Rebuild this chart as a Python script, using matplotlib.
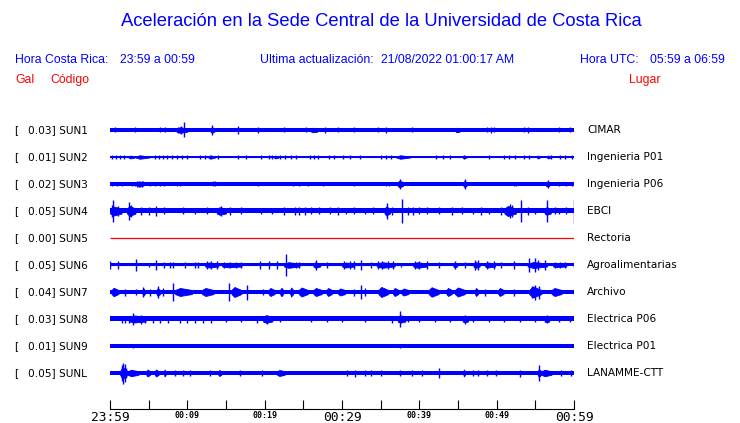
import numpy as np
import matplotlib
matplotlib.use("Agg")
import matplotlib.pyplot as plt

# ---------------- data ----------------
codes = ["SUN1", "SUN2", "SUN3", "SUN4", "SUN5", "SUN6", "SUN7", "SUN8", "SUN9", "SUNL"]
places = ["CIMAR", "Ingenieria P01", "Ingenieria P06", "EBCI", "Rectoria",
          "Agroalimentarias", "Archivo", "Electrica P06", "Electrica P01", "LANAMME-CTT"]
peaks_gal = [0.03, 0.01, 0.02, 0.05, 0.00, 0.05, 0.04, 0.03, 0.01, 0.05]
tick_minutes = [0, 5, 10, 15, 20, 25, 30, 35, 40, 45, 50, 55, 60]
tick_labels = ["23:59", "", "00:09", "", "00:19", "", "00:29", "", "00:39", "", "00:49", "", "00:59"]

# background noise half-amplitude per station (mGal)
base_mgal = [7, 2, 8, 10, 0, 6, 8, 10, 7, 7]

# spikes: minute after 23:59 and half-amplitude (mGal)
SUN1_t = [9.6, 9.2, 8.75, 13.2, 16.6, 19.2, 27.8, 35.7, 34.6, 54.0, 0.6, 3.2, 6.5, 7.1, 22.5,
          25.3, 29.5, 31.5, 39.0, 48.7, 49.3, 49.6, 53.5, 58.0, 59.5]
SUN1_a = [30, 16, 12, 20, 17, 12, 13, 13, 10, 12, 10, 10, 10, 10, 10,
          10, 10, 10, 10, 10, 11, 10, 10, 10, 10]
SUN2_t = [0.2, 0.8, 1.3, 1.8, 5.8, 6.4, 6.9, 7.4, 8.0, 8.6, 9.3, 10.0, 11.6, 12.3, 14.0, 16.6,
          17.6, 19.5, 20.5, 21.0, 22.0, 22.6, 23.4, 24.0, 25.8, 26.4, 26.9, 28.3, 29.0, 30.1,
          31.0, 32.3, 35.0, 35.7, 36.3, 42.2, 43.0, 44.0, 49.0, 50.9, 51.6, 52.4, 53.5, 54.2,
          57.0, 58.2, 58.8, 59.8]
SUN2_a = [7] * 48
SUN3_t = [3.8, 3.5, 4.1, 13.3, 13.6, 37.5, 45.9, 56.6, 52.2, 52.5, 0.2, 0.9, 1.5, 2.8, 3.2, 4.3,
          5.2, 5.8, 6.5, 7.0, 8.6, 9.0, 19.2, 23.6, 24.5, 25.6, 27.6, 31.5, 35.7, 36.1, 59.0,
          59.7, 58.0]
SUN3_a = [13, 11, 12, 10, 10, 21, 19, 15, 9, 9, 9, 9, 9, 9, 9, 10,
          9, 9, 9, 9, 9, 9, 9, 9, 9, 9, 9, 9, 9, 9, 9, 9, 9]
SUN4_t = [0.4, 2.5, 2.7, 6.0, 14.4, 35.8, 37.7, 51.7, 52.0, 53.1, 56.5, 59.95, 44.2, 23.9, 25.2,
          1.0, 0.2, 17.0, 19.5, 27.0, 30.5, 33.0, 40.0, 47.0, 49.0, 55.0, 58.0,
          4.0, 5.0, 7.0, 9.5, 11.0, 12.5, 15.5, 21.0, 22.5, 24.5, 26.0, 28.5, 29.5, 31.5,
          34.0, 36.5, 38.5, 39.2, 41.0, 42.5, 45.5, 48.0, 50.5, 54.0, 57.5, 59.0]
SUN4_a = [44, 36, 24, 19, 20, 31, 48, 28, 24, 44, 44, 48, 15, 16, 16,
          20, 24, 14, 13, 14, 13, 13, 14, 13, 13, 13, 13,
          15, 15, 14, 14, 13, 14, 15, 13, 15, 15, 14, 14, 15, 14,
          14, 16, 16, 15, 14, 14, 14, 15, 16, 15, 14, 14]
SUN5_t = []
SUN5_a = []
SUN6_t = [0.0, 1.0, 3.4, 5.0, 5.9, 7.0, 7.8, 8.2, 9.7, 11.0, 11.4, 12.5, 13.0, 13.8, 14.7, 15.5,
          16.3, 17.0, 19.4, 20.5, 21.6, 22.7, 23.2, 24.0, 24.4, 26.7, 28.0, 30.2, 31.0, 31.5,
          32.5, 33.8, 34.7, 35.2, 36.0, 36.6, 37.6, 39.4, 40.0, 41.0, 42.5, 44.6, 45.9, 47.2,
          47.6, 48.7, 49.6, 50.6, 52.3, 54.2, 55.0, 55.4, 56.2, 57.5, 58.2, 58.8, 60.0]
SUN6_a = [16, 16, 24, 9, 19, 13, 13, 13, 13, 13, 13, 14, 14, 14, 13, 13,
          13, 13, 17, 17, 17, 43, 13, 13, 13, 20, 12, 14, 14, 14,
          20, 12, 17, 17, 17, 17, 9, 17, 17, 17, 12, 14, 12, 18,
          18, 14, 14, 12, 14, 27, 29, 20, 20, 12, 12, 12, 13]
SUN7_t = [2.0, 3.3, 4.3, 5.2, 6.2, 6.9, 8.1, 15.4, 17.7, 19.8, 22.2, 31.5, 32.4, 33.0, 48.5,
          52.2, 55.0, 54.6, 55.5, 60.0]
SUN7_a = [14, 13, 21, 14, 25, 16, 37, 35, 30, 13, 17, 14, 27, 16, 14,
          14, 30, 24, 26, 12]
SUN8_t = [3.0, 4.0, 20.3, 37.5, 45.9, 56.5, 1.5, 2.0, 2.5, 4.5, 5.5, 6.5, 7.5, 9.0, 10.0, 11.0,
          12.0, 13.0, 15.0, 17.0, 19.0, 22.0, 26.0, 28.0, 30.0, 33.0, 36.5, 38.5, 40.0, 42.0,
          44.0, 47.0, 49.0, 51.0, 53.0, 55.0, 58.0, 59.5]
SUN8_a = [25, 18, 18, 31, 18, 16, 14, 14, 14, 14, 14, 14, 14, 14, 14, 14,
          14, 14, 13, 13, 14, 13, 13, 13, 13, 13, 14, 13, 13, 13,
          13, 13, 13, 13, 13, 13, 13, 13]
SUN9_t = [3.0, 37.5]
SUN9_a = [9, 9]
SUNL_t = [1.5, 1.7, 1.9, 2.1, 42.5, 55.5, 31.7, 53.0, 12.9, 19.6, 30.6, 37.5, 47.6, 16.8, 8.4,
          9.5, 10.3, 33.0, 33.7, 35.1, 39.0, 40.4, 47.0, 48.7, 49.9, 58.3, 59.6]
SUNL_a = [30, 42, 36, 20, 20, 31, 14, 14, 12, 12, 12, 12, 12, 10, 11,
          11, 11, 10, 10, 10, 10, 10, 10, 10, 10, 12, 10]

# bursts: start minute, end minute, peak half-amplitude (mGal)
SUN1_b0 = [8.6, 13.0, 26.0, 44.7]
SUN1_b1 = [10.0, 13.5, 26.8, 45.2]
SUN1_ba = [11, 11, 9, 9]
SUN2_b0 = [2.4, 3.3, 12.7, 21.2, 37.0, 45.6, 55.2, 56.5]
SUN2_b1 = [3.2, 5.1, 13.6, 21.8, 38.8, 46.1, 55.6, 57.0]
SUN2_ba = [6, 7, 7, 6, 7, 7, 6, 6]
SUN3_b0 = [37.2, 45.7, 56.4, 3.6]
SUN3_b1 = [37.9, 46.1, 56.8, 4.2]
SUN3_ba = [13, 12, 10, 10]
SUN4_b0 = [0.0, 2.2, 13.8, 35.5, 51.0, 56.2]
SUN4_b1 = [1.5, 3.3, 15.0, 36.2, 52.5, 57.0]
SUN4_ba = [18, 20, 15, 18, 20, 15]
SUN5_b0 = []
SUN5_b1 = []
SUN5_ba = []
SUN6_b0 = [12.3, 14.5, 22.5, 26.3, 30.0, 34.5, 39.2, 44.4, 47.0, 48.5, 54.0, 57.3]
SUN6_b1 = [14.0, 17.0, 24.5, 27.2, 31.6, 36.8, 41.0, 44.9, 47.8, 49.8, 56.5, 59.0]
SUN6_ba = [10, 9, 11, 11, 10, 11, 11, 10, 12, 10, 12, 8]
SUN7_b0 = [0.2, 4.2, 6.0, 8.4, 11.9, 15.7, 20.5, 22.0, 23.3, 24.4, 26.3, 28.0, 29.5, 34.7,
           36.6, 37.7, 41.2, 43.5, 44.6, 47.2, 50.2, 54.2, 57.1]
SUN7_b1 = [1.1, 4.5, 6.5, 10.6, 13.4, 17.0, 21.3, 22.4, 23.7, 25.6, 27.4, 28.7, 30.4, 36.0,
           37.3, 38.6, 42.5, 44.2, 45.9, 47.6, 50.9, 55.8, 58.4]
SUN7_ba = [17, 15, 15, 16, 16, 20, 16, 16, 18, 18, 16, 16, 14, 20,
           16, 14, 19, 16, 18, 16, 16, 22, 16]
SUN8_b0 = [2.5, 19.8, 37.2, 45.6, 56.2]
SUN8_b1 = [4.6, 21.0, 38.2, 46.3, 56.8]
SUN8_ba = [14, 15, 15, 13, 13]
SUN9_b0 = []
SUN9_b1 = []
SUN9_ba = []
SUNL_b0 = [1.3, 2.3, 4.7, 5.8, 7.0, 14.0, 21.6, 45.7, 55.3, 55.8]
SUNL_b1 = [2.3, 3.7, 5.2, 6.3, 7.2, 14.4, 22.6, 45.9, 55.8, 57.1]
SUNL_ba = [24, 13, 14, 14, 14, 12, 12, 14, 15, 13]

spikes_t = [SUN1_t, SUN2_t, SUN3_t, SUN4_t, SUN5_t, SUN6_t, SUN7_t, SUN8_t, SUN9_t, SUNL_t]
spikes_a = [SUN1_a, SUN2_a, SUN3_a, SUN4_a, SUN5_a, SUN6_a, SUN7_a, SUN8_a, SUN9_a, SUNL_a]
bursts_0 = [SUN1_b0, SUN2_b0, SUN3_b0, SUN4_b0, SUN5_b0, SUN6_b0, SUN7_b0, SUN8_b0, SUN9_b0, SUNL_b0]
bursts_1 = [SUN1_b1, SUN2_b1, SUN3_b1, SUN4_b1, SUN5_b1, SUN6_b1, SUN7_b1, SUN8_b1, SUN9_b1, SUNL_b1]
bursts_a = [SUN1_ba, SUN2_ba, SUN3_ba, SUN4_ba, SUN5_ba, SUN6_ba, SUN7_ba, SUN8_ba, SUN9_ba, SUNL_ba]

# ---------------- figure ----------------
W, H = 740, 423
fig = plt.figure(figsize=(W / 100, H / 100), dpi=100)
fig.patch.set_facecolor("white")

def px(x, y):
    return x / W, 1 - y / H

BLUE = "#0000ff"
RED = "#ff0000"
SANS = "Liberation Sans"

fig.text(*px(381, 22), "Aceleración en la Sede Central de la Universidad de Costa Rica",
         ha="center", va="center", fontsize=13.2, color=BLUE, family=SANS)
hdr = 8.8
fig.text(*px(15, 60), "Hora Costa Rica:", ha="left", va="center", fontsize=hdr, color=BLUE, family=SANS)
fig.text(*px(120, 60), "23:59 a 00:59", ha="left", va="center", fontsize=hdr, color=BLUE, family=SANS)
fig.text(*px(260, 60), "Ultima actualización:", ha="left", va="center", fontsize=hdr, color=BLUE, family=SANS)
fig.text(*px(381, 60), "21/08/2022 01:00:17 AM", ha="left", va="center", fontsize=hdr, color=BLUE, family=SANS)
fig.text(*px(580, 60), "Hora UTC:", ha="left", va="center", fontsize=hdr, color=BLUE, family=SANS)
fig.text(*px(650, 60), "05:59 a 06:59", ha="left", va="center", fontsize=hdr, color=BLUE, family=SANS)
fig.text(*px(15, 80), "Gal", ha="left", va="center", fontsize=hdr, color=RED, family=SANS)
fig.text(*px(50, 80), "Código", ha="left", va="center", fontsize=hdr, color=RED, family=SANS)
fig.text(*px(629, 80), "Lugar", ha="left", va="center", fontsize=hdr, color=RED, family=SANS)

# main axes: rows 0..9 at 27 px spacing, first row at y=130 px, time axis at y=409 px
x0, x1 = 110, 574
y_top, y_axis = 110, 409
row0, rowgap = 130, 27
ax = fig.add_axes([x0 / W, 1 - y_axis / H, (x1 - x0) / W, (y_axis - y_top) / H])
ax.set_xlim(0, 60)
ax.set_ylim((y_axis - row0) / rowgap, (y_top - row0) / rowgap)
ax.set_facecolor("none")
for s in ["top", "left", "right"]:
    ax.spines[s].set_visible(False)
ax.spines["bottom"].set_linewidth(0.8)
ax.set_yticks([])
ax.set_xticks(tick_minutes)
ax.set_xticklabels(tick_labels)
ax.tick_params(axis="x", direction="in", length=6.5, width=0.8, pad=1.2)
for lbl, txt in zip(ax.get_xticklabels(), tick_labels):
    lbl.set_family("DejaVu Sans Mono")
    if txt in ("23:59", "00:29", "00:59"):
        lbl.set_fontsize(9.3)
    else:
        lbl.set_fontsize(6)
        lbl.set_fontweight("bold")

gain = 1 / (4.0 * rowgap)  # 4 mGal per pixel
tt = np.array([0.0, 60.0])
for i in range(len(codes)):
    yc = i
    if codes[i] == "SUN5":
        ax.plot(tt, [yc, yc], color=RED, lw=0.9, solid_capstyle="butt")
        continue
    b = base_mgal[i] * gain
    ax.fill_between(tt, yc - b, yc + b, color=BLUE, lw=0)
    ax.plot(tt, [yc, yc], color=BLUE, lw=0.8)
    # bursts drawn as spindles: quick rise, slower decay
    for t0, t1, a in zip(bursts_0[i], bursts_1[i], bursts_a[i]):
        xs = [t0, t0 + 0.3 * (t1 - t0), t1]
        hs = np.array([b, a * gain, b])
        ax.fill_between(xs, yc - hs, yc + hs, color=BLUE, lw=0.6, edgecolor=BLUE)
    ts = np.array(spikes_t[i])
    if len(ts):
        amp = np.array(spikes_a[i]) * gain
        ax.vlines(ts, yc - amp, yc + amp, color=BLUE, lw=1.0)

# station labels
lab = 7.6
for i in range(len(codes)):
    y = row0 + rowgap * i
    fig.text(*px(14, y), "[", ha="left", va="center", fontsize=lab, family="DejaVu Sans")
    fig.text(*px(28, y), f"{peaks_gal[i]:.2f}] {codes[i]}", ha="left", va="center",
             fontsize=lab, family="DejaVu Sans")
    fig.text(*px(587, y), places[i], ha="left", va="center", fontsize=lab, family="DejaVu Sans")

fig.savefig("out.png", dpi=100)
